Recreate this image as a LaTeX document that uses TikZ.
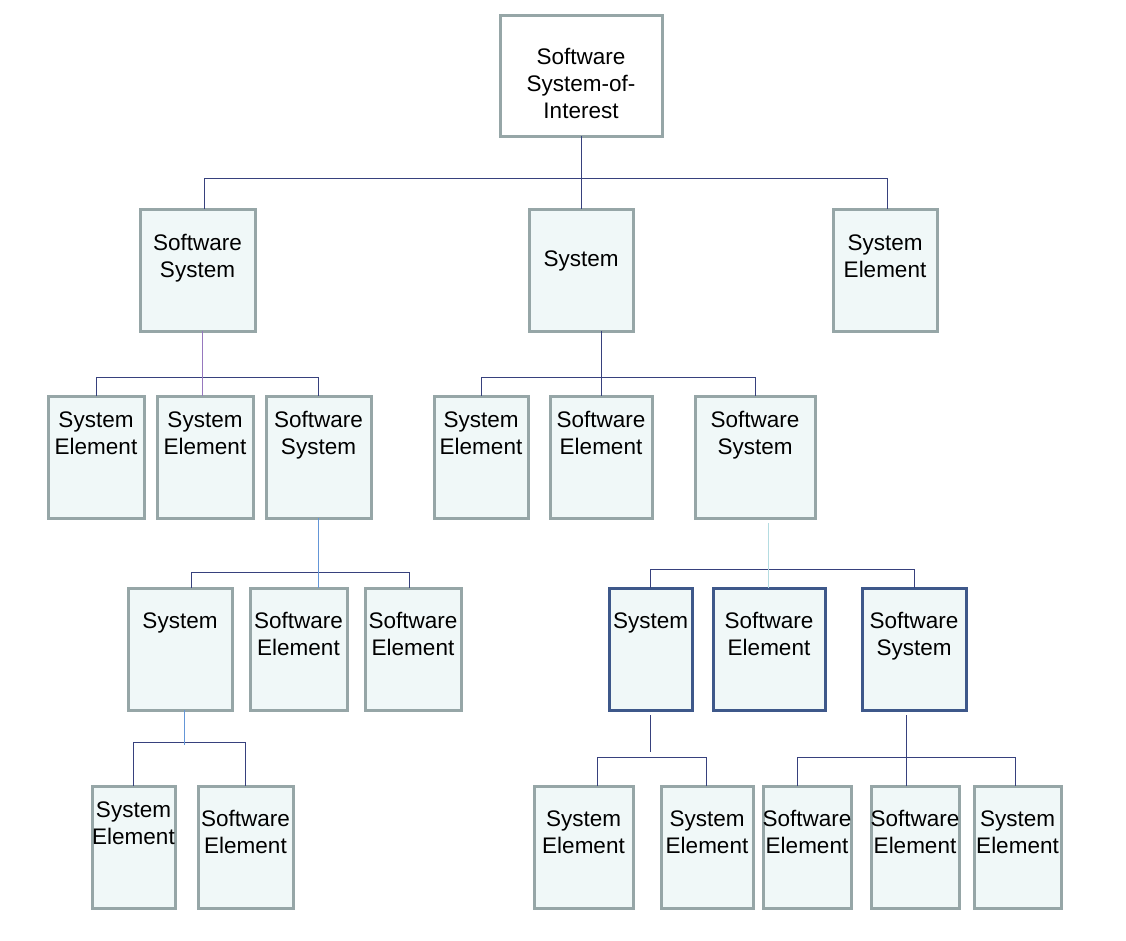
\documentclass[tikz,border=0pt]{standalone}
\usepackage{fontspec}
\setmainfont{Liberation Sans}
\definecolor{boxgray}{RGB}{150,166,167}
\definecolor{boxfill}{RGB}{240,248,248}
\definecolor{darkb}{RGB}{62,88,138}
\definecolor{navy}{RGB}{55,65,125}
\definecolor{purp}{RGB}{150,120,190}
\definecolor{lblue}{RGB}{100,150,215}
\definecolor{lcyan}{RGB}{180,220,225}
\tikzset{
  box/.style={draw=boxgray, fill=boxfill, line width=3pt, inner sep=0pt, outer sep=0pt},
  darkbox/.style={draw=darkb},
  rootbox/.style={fill=white},
  txt/.style={align=center, inner sep=0pt, font=\fontsize{22.5}{27}\selectfont},
  conn/.style={draw=navy, line width=1pt},
  connp/.style={draw=purp, line width=1pt},
  connlb/.style={draw=lblue, line width=1pt},
  conncy/.style={draw=lcyan, line width=1pt},
}
\newcommand\mkbox[6][]{\node[box,#1,minimum width={(#5-#3)*1pt},minimum height={(#6-#4)*1pt}] (#2) at ({(#3+#5)/2},{(#4+#6)/2}) {};}
% #3 = distance from box top to baseline of the LAST line
\newcommand\mktext[4]{\node[txt,anchor=base] (#1) at ([yshift=-#3pt]#2.north) {#4};}
\begin{document}
\begin{tikzpicture}[x=1pt,y=-1pt]
\useasboundingbox (0,0) rectangle (1126,940);
% boxes
\mkbox[rootbox]{root}{500}{15}{662}{136}
\mkbox{L1a}{140}{209}{255}{331}
\mkbox{L1b}{529}{209}{633}{331}
\mkbox{L1c}{833}{209}{937}{331}
\mkbox{L2a1}{48}{396}{144}{518}
\mkbox{L2a2}{157}{396}{253}{518}
\mkbox{L2a3}{266}{396}{371}{518}
\mkbox{L2b1}{434}{396}{528}{518}
\mkbox{L2b2}{550}{396}{652}{518}
\mkbox{L2b3}{695}{396}{815}{518}
\mkbox{L3a1}{128}{588}{232}{710}
\mkbox{L3a2}{250}{588}{347}{710}
\mkbox{L3a3}{365}{588}{461}{710}
\mkbox[darkbox]{L3b1}{609}{588}{692}{710}
\mkbox[darkbox]{L3b2}{713}{588}{825}{710}
\mkbox[darkbox]{L3b3}{862}{588}{966}{710}
\mkbox{L4a1}{92}{786}{175}{908}
\mkbox{L4a2}{198}{786}{293}{908}
\mkbox{L4b1}{534}{786}{633}{908}
\mkbox{L4b2}{661}{786}{753}{908}
\mkbox{L4c1}{763}{786}{851}{908}
\mkbox{L4c2}{871}{786}{959}{908}
\mkbox{L4c3}{974}{786}{1061}{908}
% texts
\mktext{troot}{root}{103}{Software\\System-of-\\Interest}
\mktext{tL1a}{L1a}{68}{Software\\System}
\mktext{tL1b}{L1b}{57}{System}
\mktext{tL1c}{L1c}{68}{System\\Element}
\mktext{tL2a1}{L2a1}{58}{System\\Element}
\mktext{tL2a2}{L2a2}{58}{System\\Element}
\mktext{tL2a3}{L2a3}{58}{Software\\System}
\mktext{tL2b1}{L2b1}{58}{System\\Element}
\mktext{tL2b2}{L2b2}{58}{Software\\Element}
\mktext{tL2b3}{L2b3}{58}{Software\\System}
\mktext{tL3a1}{L3a1}{40}{System}
\mktext{tL3a2}{L3a2}{67}{Software\\Element}
\mktext{tL3a3}{L3a3}{67}{Software\\Element}
\mktext{tL3b1}{L3b1}{40}{System}
\mktext{tL3b2}{L3b2}{67}{Software\\Element}
\mktext{tL3b3}{L3b3}{67}{Software\\System}
\mktext{tL4a1}{L4a1}{58}{System\\Element}
\mktext{tL4a2}{L4a2}{67}{Software\\Element}
\mktext{tL4b1}{L4b1}{67}{System\\Element}
\mktext{tL4b2}{L4b2}{67}{System\\Element}
\mktext{tL4c1}{L4c1}{67}{Software\\Element}
\mktext{tL4c2}{L4c2}{67}{Software\\Element}
\mktext{tL4c3}{L4c3}{67}{System\\Element}
% connectors
\draw[conn] (root.south) -- (L1b.north);
\draw[conn] ([xshift=6.5pt]L1a.north) -- ++(0,-31) -| ([xshift=2pt]L1c.north);
\draw[conn] (L2a1.north) -- ++(0,-19) -| (L2a3.north);
\draw[connp] ([xshift=4.5pt]L1a.south) -- ([xshift=-3pt]L2a2.north);
\draw[conn] (L2b1.north) -- ++(0,-19) -| (L2b3.north);
\draw[conn] ([xshift=20pt]L1b.south) -- (L2b2.north);
\draw[conn] ([xshift=11pt]L3a1.north) -- ++(0,-16) -| ([xshift=-4pt]L3a3.north);
\draw[connlb] (L2a3.south) -- (L2a3.south |- L3a2.north);
\draw[conn] (L3b1.north) -- ++(0,-19) -| (L3b3.north);
\draw[conncy] ([xshift=13pt,yshift=-5pt]L2b3.south) -- ([xshift=13pt]L2b3.south |- L3b2.north);
\draw[conn] (L4a1.north) -- ++(0,-44) -| (L4a2.north);
\draw[connlb] ([xshift=4pt]L3a1.south) -- ++(0,35);
\draw[conn] ([xshift=13.5pt]L4b1.north) -- ++(0,-29) -| ([xshift=-1pt]L4b2.north);
\draw[conn] ([yshift=-5pt]L3b1.south) -- ++(0,37);
\draw[conn] ([xshift=-10pt]L4c1.north) -- ++(0,-29) -| ([xshift=-2.5pt]L4c3.north);
\draw[conn] ([xshift=-8pt,yshift=-5pt]L3b3.south) -- ([xshift=-8pt]L3b3.south |- L4c2.north);
\end{tikzpicture}
\end{document}
